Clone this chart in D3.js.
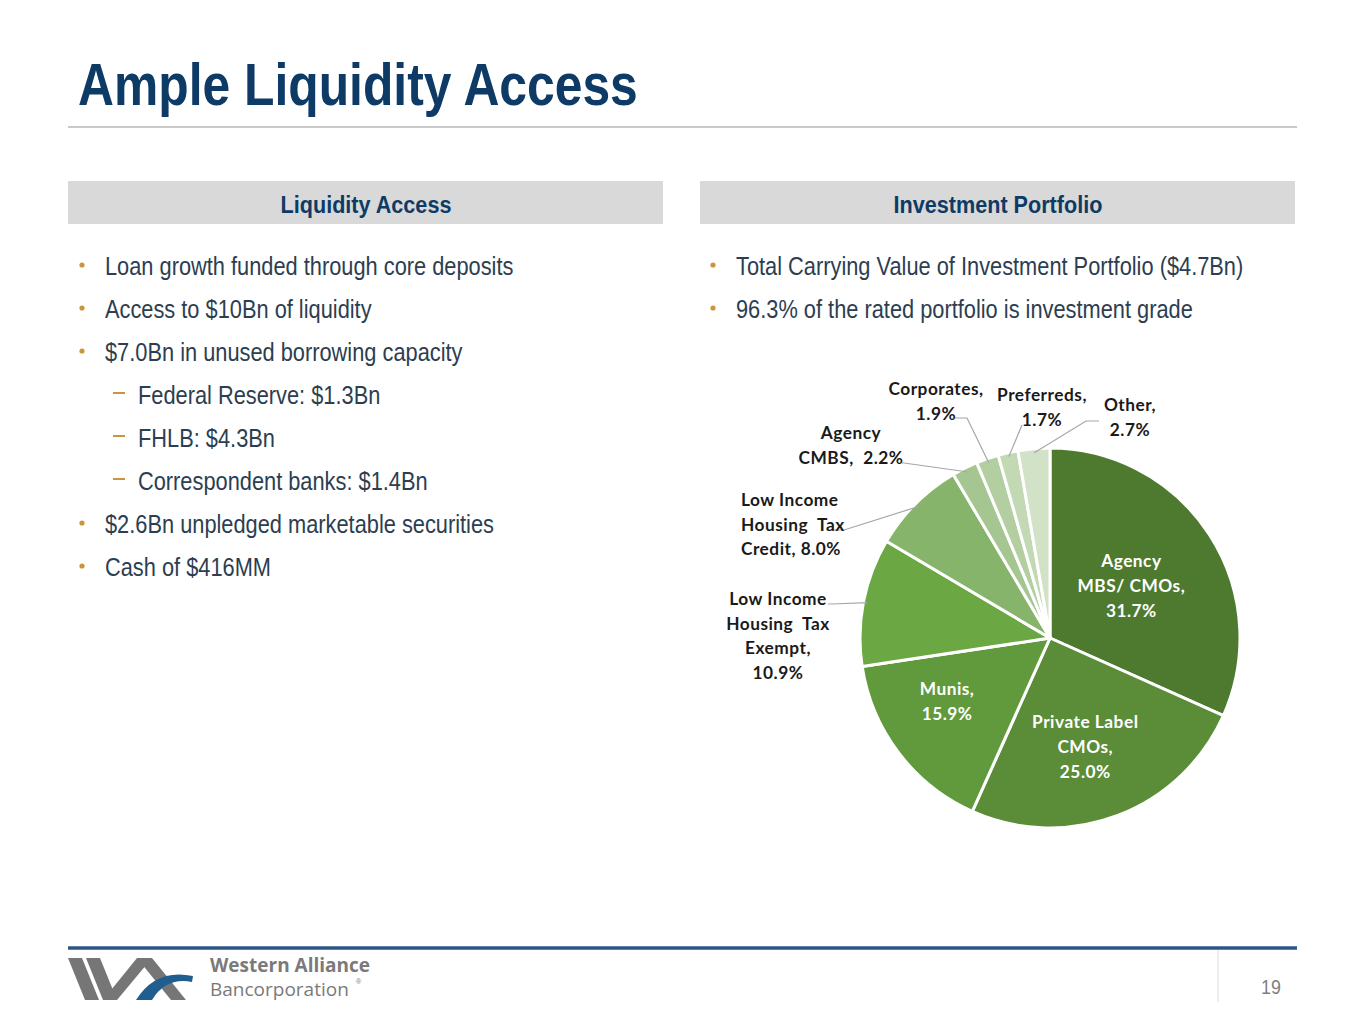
<!DOCTYPE html>
<html>
<head>
<meta charset="utf-8">
<script src="https://cdn.jsdelivr.net/npm/d3@7"></script>
<style>
  body { margin: 0; background: #fff; }
  svg { display: block; }
</style>
</head>
<body>
<div id="slide"></div>
<script>
// ---- data ----
const categories = ["Agency MBS/ CMOs", "Private Label CMOs", "Munis", "Low Income Housing Tax Exempt",
  "Low Income Housing Tax Credit", "Agency CMBS", "Corporates", "Preferreds", "Other"];
const shares = [31.7, 25.0, 15.9, 10.9, 8.0, 2.2, 1.9, 1.7, 2.7];
const labelLines = [
  ["Agency", "MBS/ CMOs,", "31.7%"],
  ["Private Label", "CMOs,", "25.0%"],
  ["Munis,", "15.9%"],
  ["Low Income", "Housing  Tax", "Exempt,", "10.9%"],
  ["Low Income", "Housing  Tax", "Credit, 8.0%"],
  ["Agency", "CMBS,  2.2%"],
  ["Corporates,", "1.9%"],
  ["Preferreds,", "1.7%"],
  ["Other,", "2.7%"]
];
const leftBullets = [
  { level: 0, text: "Loan growth funded through core deposits" },
  { level: 0, text: "Access to $10Bn of liquidity" },
  { level: 0, text: "$7.0Bn in unused borrowing capacity" },
  { level: 1, text: "Federal Reserve: $1.3Bn" },
  { level: 1, text: "FHLB: $4.3Bn" },
  { level: 1, text: "Correspondent banks: $1.4Bn" },
  { level: 0, text: "$2.6Bn unpledged marketable securities" },
  { level: 0, text: "Cash of $416MM" }
];
const rightBullets = [
  "Total Carrying Value of Investment Portfolio ($4.7Bn)",
  "96.3% of the rated portfolio is investment grade"
];

const greens = ["#4e7a30", "#5b8c38", "#619a3c", "#6ba743", "#86b46a", "#a5c690", "#b3cfa2", "#c2d9b4", "#d1e2c7"];

const width = 1365, height = 1024;
const navy = "#0e3a66", textCol = "#2c3e50", gold = "#c9963c";
const sans = "'Liberation Sans', Arial, sans-serif";
const labelFont = "Lato, 'Open Sans', sans-serif";

const svg = d3.select("#slide").append("svg")
  .attr("width", width)
  .attr("height", height);

// condensed look: squeeze the regular face horizontally around its x
function squeeze(sel, x, s) {
  return sel.attr("transform", `translate(${x},0) scale(${s},1) translate(${-x},0)`);
}

// title
squeeze(svg.append("text")
  .attr("x", 78).attr("y", 105)
  .attr("font-family", sans).attr("font-weight", "bold")
  .attr("font-size", 60).attr("fill", navy)
  .text("Ample Liquidity Access"), 78, 0.83);

svg.append("line")
  .attr("x1", 68).attr("x2", 1297).attr("y1", 127).attr("y2", 127)
  .attr("stroke", "#c9c9c9").attr("stroke-width", 2);

// section headers
const headers = [{ x: 68, label: "Liquidity Access" }, { x: 700, label: "Investment Portfolio" }];
headers.forEach(h => {
  svg.append("rect")
    .attr("x", h.x).attr("y", 181).attr("width", 595).attr("height", 43)
    .attr("fill", "#d9d9d9");
  squeeze(svg.append("text")
    .attr("x", h.x + 298).attr("y", 213)
    .attr("text-anchor", "middle")
    .attr("font-family", sans).attr("font-weight", "bold")
    .attr("font-size", 24).attr("fill", navy)
    .text(h.label), h.x + 298, 0.9);
});

// bullets
const rowY = d3.scaleLinear().domain([0, 1]).range([274, 317]);

function drawBullets(items, x0) {
  const g = svg.append("g");
  items.forEach((d, i) => {
    const y = rowY(i);
    let tx;
    if (d.level === 0) {
      g.append("circle").attr("cx", x0).attr("cy", y - 9).attr("r", 2.6).attr("fill", gold);
      tx = x0 + 23;
    } else {
      g.append("line").attr("x1", x0 + 31).attr("x2", x0 + 43).attr("y1", y - 10).attr("y2", y - 10)
        .attr("stroke", gold).attr("stroke-width", 2);
      tx = x0 + 56;
    }
    squeeze(g.append("text").attr("x", tx).attr("y", y + 1)
      .attr("font-family", sans).attr("font-size", 25.5).attr("fill", textCol)
      .text(d.text), tx, 0.855);
  });
}
drawBullets(leftBullets, 82);
drawBullets(rightBullets.map(t => ({ level: 0, text: t })), 713);

// ---- pie ----
const cx = 1050, cy = 638, r = 190;
const pieData = categories.map((c, i) => ({ cat: c, value: shares[i], lines: labelLines[i] }));
const pie = d3.pie().sort(null).value(d => d.value);
const arcs = pie(pieData);
const arc = d3.arc().innerRadius(0).outerRadius(r);
const color = d3.scaleOrdinal().domain(categories).range(greens);

const pg = svg.append("g").attr("transform", `translate(${cx},${cy})`);
pg.selectAll("path.slice").data(arcs).join("path")
  .attr("class", "slice")
  .attr("d", arc)
  .attr("fill", d => color(d.data.cat))
  .attr("stroke", "#fff").attr("stroke-width", 3)
  .attr("stroke-linejoin", "round");

// inside labels (white): radius and small angle nudge from the slice's mid angle
const inside = {
  "Agency MBS/ CMOs": { r: 100, turn: -2.6 },
  "Private Label CMOs": { r: 109, turn: 2 },
  "Munis": { r: 118, turn: 8 }
};
// outside labels: text anchor point relative to the centre, plus leader elbow and tail
const outside = {
  "Low Income Housing Tax Exempt": { x: -272, y: -33, anchor: "middle", elbow: [-218, -34], tail: -4 },
  "Low Income Housing Tax Credit": { x: -309, y: -132, anchor: "start", elbow: [-206, -108], tail: -13 },
  "Agency CMBS": { x: -199, y: -199, anchor: "middle", elbow: [-146, -175], tail: -2 },
  "Corporates": { x: -114, y: -243, anchor: "middle", elbow: [-83, -220], tail: -12 },
  "Preferreds": { x: -8, y: -237, anchor: "middle", elbow: [-28, -213], tail: 0 },
  "Other": { x: 80, y: -227, anchor: "middle", elbow: [36, -217], tail: 13 }
};
const lineH = 24.6;

function labelText(fill) {
  return pg.append("text")
    .attr("font-family", labelFont).attr("font-weight", "bold")
    .attr("font-size", 17.3).attr("fill", fill)
    .attr("letter-spacing", 0.5);
}

arcs.forEach(d => {
  const mid = (d.startAngle + d.endAngle) / 2;
  const lines = d.data.lines;
  const inn = inside[d.data.cat];
  if (inn) {
    const a = mid + inn.turn * Math.PI / 180;
    const px = inn.r * Math.sin(a), py = -inn.r * Math.cos(a);
    const t = labelText("#fff").attr("text-anchor", "middle");
    lines.forEach((ln, k) => {
      t.append("tspan").attr("x", px)
        .attr("y", py + (k - (lines.length - 1) / 2) * 25 + 12)
        .attr("xml:space", "preserve")
        .text(ln);
    });
  } else {
    const o = outside[d.data.cat];
    const edge = [(r - 4) * Math.sin(mid), -(r - 4) * Math.cos(mid)];
    const pts = [edge, o.elbow];
    if (o.tail) pts.push([o.elbow[0] + o.tail, o.elbow[1]]);
    pg.append("path")
      .attr("d", d3.line()(pts))
      .attr("fill", "none").attr("stroke", "#a6a6a6").attr("stroke-width", 1.2);

    const t = labelText("#1a1a1a").attr("text-anchor", o.anchor);
    lines.forEach((ln, k) => {
      t.append("tspan").attr("x", o.x).attr("y", o.y + k * lineH)
        .attr("xml:space", "preserve")
        .text(ln);
    });
  }
});

// ---- footer ----
svg.append("line")
  .attr("x1", 68).attr("x2", 1297).attr("y1", 948).attr("y2", 948)
  .attr("stroke", "#2d5687").attr("stroke-width", 3.5);
svg.append("line")
  .attr("x1", 1218).attr("x2", 1218).attr("y1", 950).attr("y2", 1002)
  .attr("stroke", "#dddddd").attr("stroke-width", 1);
squeeze(svg.append("text")
  .attr("x", 1271).attr("y", 994).attr("text-anchor", "middle")
  .attr("font-family", sans).attr("font-size", 21).attr("fill", "#7f7f7f")
  .text("19"), 1271, 0.85);

// logo
const logo = svg.append("g");
const grey = "#767676";
logo.append("path").attr("d", "M68,958 L82,958 L99,1000 L85,1000 Z").attr("fill", grey);
logo.append("path").attr("d", "M86,958 L100,958 L117,1000 L103,1000 Z").attr("fill", grey);
logo.append("path").attr("d", "M103,1000 L137,958 L152,958 L117,1000 Z").attr("fill", grey);
logo.append("path").attr("d", "M137,958 L152,958 L186,1000 L171,1000 Z").attr("fill", grey);
logo.append("path").attr("d", "M136,1000 Q156,968 193,976 L192,982 Q166,977 152,1000 Z").attr("fill", "#1f5e8e");
logo.append("text").attr("x", 210).attr("y", 972)
  .attr("font-family", "'Open Sans', sans-serif").attr("font-weight", "bold")
  .attr("font-size", 19).attr("fill", "#7a7a7a")
  .text("Western Alliance");
logo.append("text").attr("x", 210).attr("y", 996)
  .attr("font-family", "'Open Sans', sans-serif")
  .attr("font-size", 19).attr("fill", "#7a7a7a")
  .text("Bancorporation");
logo.append("text").attr("x", 356).attr("y", 984)
  .attr("font-family", "sans-serif").attr("font-size", 7).attr("fill", "#7a7a7a")
  .text("®");
</script>
</body>
</html>
